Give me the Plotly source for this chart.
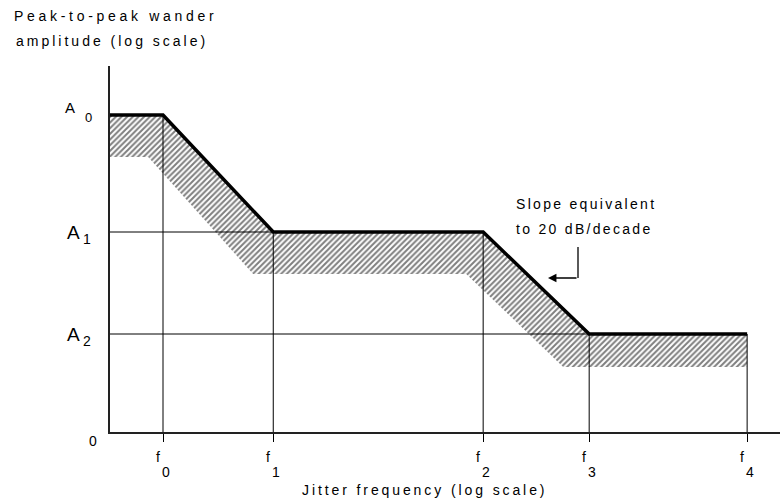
import plotly.graph_objects as go

# ---------------- data (schematic units) ----------------
freq_labels = ["0", "1", "2", "3", "4"]          # subscripts of f
freq_pos = [1.0, 3.08, 7.04, 9.04, 12.02]        # position of f0..f4 on the log axis
amp_labels = ["0", "1", "2"]                      # subscripts of A
amp_levels = [3.17, 2.0, 0.98]                    # A0, A1, A2 on the log axis

# upper limit (mask) breakpoints
mask_x = [0.0, 1.0, 3.08, 7.04, 9.04, 12.02]
mask_y = [3.17, 3.17, 2.0, 2.0, 0.98, 0.98]
# lower edge of the hatched band
band_x = [0.0, 0.72, 2.70, 6.72, 8.55, 12.02]
band_y = [2.75, 2.75, 1.58, 1.58, 0.65, 0.65]

# level reached by each frequency grid line
freq_levels = [3.17, 2.0, 2.0, 0.98, 0.98]
# horizontal guide lines: (level, x end)
hguide_levels = [2.0, 0.98]
hguide_ends = [7.04, 9.04]

X_MAX, Y_MAX = 12.64, 3.66

# ---------------- layout geometry ----------------
W, H = 780, 503
ML, MR, MT, MB = 110, 0, 66, 71
PW, PH = W - ML - MR, H - MT - MB
FONT = "Liberation Sans, Arial, sans-serif"


def px(xp):
    return (xp - ML) / PW


def py(yp):
    return (H - MB - yp) / PH


def spaced(text, sp):
    return f'<span style="letter-spacing:{sp}px">{text}</span>'


fig = go.Figure()

# hatched band
fig.add_trace(go.Scatter(
    x=mask_x + band_x[::-1], y=mask_y + band_y[::-1],
    mode="lines", fill="toself", line=dict(width=0),
    fillcolor="white",
    fillpattern=dict(shape="/", fgcolor="black", bgcolor="white", size=4, solidity=0.5),
    hoverinfo="skip", showlegend=False,
))

# frequency / amplitude guide lines
gx, gy = [], []
for f, lv in zip(freq_pos, freq_levels):
    gx += [f, f, None]
    gy += [0, lv, None]
for lv, xe in zip(hguide_levels, hguide_ends):
    gx += [0, xe, None]
    gy += [lv, lv, None]
fig.add_trace(go.Scatter(x=gx, y=gy, mode="lines",
                         line=dict(color="black", width=1),
                         hoverinfo="skip", showlegend=False))

# thick mask curve
fig.add_trace(go.Scatter(x=mask_x, y=mask_y, mode="lines",
                         line=dict(color="black", width=3.5),
                         hoverinfo="skip", showlegend=False))

ann = []
# f labels ("f" raised, index digit lowered)
for f, s in zip(freq_pos, freq_labels):
    ann.append(dict(x=f, y=py(472), xref="x", yref="paper", text="f", showarrow=False,
                    xshift=-5, yshift=15, font=dict(size=14), xanchor="center", yanchor="middle"))
    ann.append(dict(x=f, y=py(472), xref="x", yref="paper", text=s, showarrow=False,
                    xshift=3, font=dict(size=14), xanchor="center", yanchor="middle"))

# A labels
a_styles = [(15, 70, -8, 13, 88, 2), (19, 73, 0, 14, 87, 7), (19, 73, 0, 14, 87, 7)]
for lv, s, (fa, xa, dya, fs, xs, dys) in zip(amp_levels, amp_labels, a_styles):
    ann.append(dict(x=px(xa), y=lv, xref="paper", yref="y", text="A", showarrow=False,
                    yshift=-dya, font=dict(size=fa), xanchor="center", yanchor="middle"))
    ann.append(dict(x=px(xs), y=lv, xref="paper", yref="y", text=s, showarrow=False,
                    yshift=-dys, font=dict(size=fs), xanchor="center", yanchor="middle"))
# origin 0
ann.append(dict(x=px(93), y=py(441), xref="paper", yref="paper", text="0", showarrow=False,
                font=dict(size=14), xanchor="center", yanchor="middle"))

# axis titles
ann.append(dict(x=px(12), y=py(16), xref="paper", yref="paper",
                text=spaced("Peak-to-peak wander", 3.7), showarrow=False,
                font=dict(size=14), xanchor="left", yanchor="middle"))
ann.append(dict(x=px(14), y=py(41), xref="paper", yref="paper",
                text=spaced("amplitude (log scale)", 3.0), showarrow=False,
                font=dict(size=14), xanchor="left", yanchor="middle"))
ann.append(dict(x=px(300), y=py(490), xref="paper", yref="paper",
                text=spaced("Jitter frequency (log scale)", 2.9), showarrow=False,
                font=dict(size=14), xanchor="left", yanchor="middle"))

# slope note
ann.append(dict(x=px(514), y=py(204), xref="paper", yref="paper",
                text=spaced("Slope equivalent", 2.3), showarrow=False,
                font=dict(size=14), xanchor="left", yanchor="middle"))
ann.append(dict(x=px(514), y=py(229), xref="paper", yref="paper",
                text=spaced("to 20 dB/decade", 2.3), showarrow=False,
                font=dict(size=14), xanchor="left", yanchor="middle"))
# elbow arrow (horizontal leg with head)
ann.append(dict(x=px(548), y=py(278), xref="paper", yref="paper",
                ax=30, ay=0, axref="pixel", ayref="pixel",
                text="", showarrow=True, arrowhead=2, arrowsize=1.3, arrowwidth=1.3,
                arrowcolor="black"))

shapes = [dict(type="line", xref="paper", yref="paper",
               x0=px(578), x1=px(578), y0=py(247), y1=py(278),
               line=dict(color="black", width=1.3))]

fig.update_layout(
    width=W, height=H,
    margin=dict(l=ML, r=MR, t=MT, b=MB),
    paper_bgcolor="white", plot_bgcolor="white",
    font=dict(family=FONT, color="black", size=14),
    showlegend=False,
    annotations=ann, shapes=shapes,
    xaxis=dict(range=[0, X_MAX], showgrid=False, zeroline=False,
               showline=True, linecolor="#222", linewidth=1.5,
               tickvals=freq_pos, ticktext=[""] * len(freq_pos),
               ticks="outside", ticklen=8, tickwidth=1, tickcolor="black",
               fixedrange=True),
    yaxis=dict(range=[0, Y_MAX], showgrid=False, zeroline=False,
               showline=True, linecolor="#222", linewidth=1.5,
               showticklabels=False, ticks="", fixedrange=True),
)

fig.write_html("out.html")
